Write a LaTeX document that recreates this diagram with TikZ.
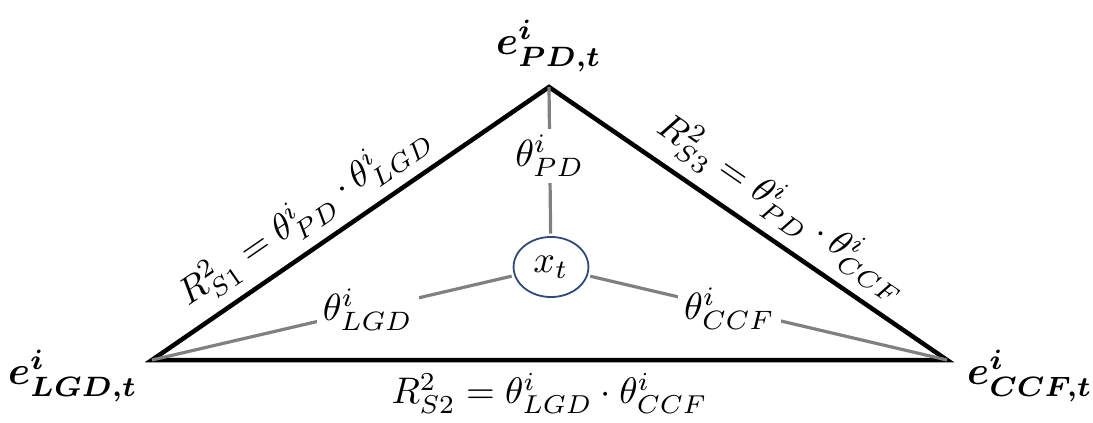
\documentclass[tikz,border=0pt]{standalone}
\usepackage{amsmath,bm}
\usetikzlibrary{shapes.geometric}
\definecolor{ellblue}{HTML}{2F4A7A}
\definecolor{linegray}{HTML}{808080}
\begin{document}
\begin{tikzpicture}[x=1pt,y=-1pt,
  edge/.style={draw=black,line width=4.5pt,line join=miter},
  spoke/.style={draw=linegray,line width=3.2pt},
  elabel/.style={scale=3.7,inner sep=1.3pt},
  slabel/.style={scale=3.8,fill=white,inner sep=1.6pt},
  vlabel/.style={scale=4.0,font=\boldmath,inner sep=0pt}]
\useasboundingbox (0,0) rectangle (1093,423);
\coordinate (T) at (549,87);
\coordinate (L) at (152,360);
\coordinate (R) at (947,360);
\node[ellipse,draw=ellblue,scale=3.8,line width=1.8pt,minimum width=19.7pt,minimum height=15.8pt,inner sep=0pt] (X) at (551,267) {$x_t$};
\draw[edge] (L) -- (T) node[elabel,pos=0.43,sloped,above] {$R^2_{S1}=\theta^i_{PD}\cdot\theta^i_{LGD}$}
  -- (R) node[elabel,pos=0.54,sloped,above] {$R^2_{S3}=\theta^i_{PD}\cdot\theta^i_{CCF}$}
  -- cycle node[elabel,pos=0.5,below] {$R^2_{S2}=\theta^i_{LGD}\cdot\theta^i_{CCF}$};
\draw[spoke] (T) -- (X) node[slabel,pos=0.47] {$\theta^i_{PD}$};
\draw[spoke] (L) -- (X) node[slabel,pos=0.6] {$\theta^i_{LGD}$};
\draw[spoke] (R) -- (X) node[slabel,pos=0.61] {$\theta^i_{CCF}$};
\node[vlabel] (eT) at (549,46) {$e^i_{PD,t}$};
\node[vlabel] (eL) at (73,376) {$e^i_{LGD,t}$};
\node[vlabel] (eR) at (1030,376) {$e^i_{CCF,t}$};
\end{tikzpicture}
\end{document}
